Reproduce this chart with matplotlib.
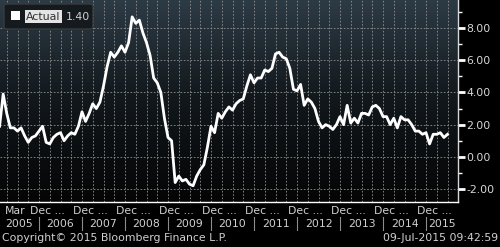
import numpy as np
import matplotlib.pyplot as plt
from matplotlib import transforms
from matplotlib.colors import LinearSegmentedColormap
from matplotlib.patches import FancyBboxPatch, Rectangle

# ---------------- data (monthly, Jan 2005 - Jun 2015) ----------------
y2005 = [1.9, 3.9, 2.7, 1.8, 1.8, 1.6, 1.8, 1.3, 0.9, 1.2, 1.3, 1.6]
y2006 = [1.9, 0.9, 0.8, 1.2, 1.4, 1.5, 1.0, 1.3, 1.5, 1.4, 1.9, 2.8]
y2007 = [2.2, 2.7, 3.3, 3.0, 3.4, 4.4, 5.6, 6.5, 6.2, 6.5, 6.9, 6.5]
y2008 = [7.1, 8.7, 8.3, 8.5, 7.7, 7.1, 6.3, 4.9, 4.6, 4.0, 2.4, 1.2]
y2009 = [1.0, -1.6, -1.2, -1.5, -1.4, -1.7, -1.8, -1.2, -0.8, -0.5, 0.6, 1.9]
y2010 = [1.5, 2.7, 2.4, 2.8, 3.1, 2.9, 3.3, 3.5, 3.6, 4.4, 5.1, 4.6]
y2011 = [4.9, 4.9, 5.4, 5.3, 5.5, 6.4, 6.5, 6.2, 6.1, 5.5, 4.2, 4.1]
y2012 = [4.5, 3.2, 3.6, 3.4, 3.0, 2.2, 1.8, 2.0, 1.9, 1.7, 2.0, 2.5]
y2013 = [2.0, 3.2, 2.1, 2.4, 2.1, 2.7, 2.7, 2.6, 3.1, 3.2, 3.0, 2.5]
y2014 = [2.5, 2.0, 2.4, 1.8, 2.5, 2.3, 2.3, 2.0, 1.6, 1.6, 1.4, 1.5]
y2015 = [0.8, 1.4, 1.4, 1.5, 1.2, 1.4]

actual = y2005 + y2006 + y2007 + y2008 + y2009 + y2010 + y2011 + y2012 + y2013 + y2014 + y2015
years = ['2005', '2006', '2007', '2008', '2009', '2010', '2011', '2012', '2013', '2014', '2015']
yticks = [-2, 0, 2, 4, 6, 8]

# x in years since Jan 2005, points at month end
t = (np.arange(len(actual)) + 1) / 12.0
x0, x1 = 0.093, 10.744

fig = plt.figure(figsize=(5, 2.47), dpi=100, facecolor='black')
ax = fig.add_axes([0, 45 / 247, 458 / 500, 202 / 247])
ax.set_facecolor('black')
ax.set_xlim(x0, x1)
ax.set_ylim(-2.81, 9.75)

# gradient background
cmap = LinearSegmentedColormap.from_list('bg', ['#050505', '#11171b', '#2d3b45'])
grad = np.linspace(0, 1, 256).reshape(-1, 1)
ax.imshow(grad, extent=[x0, x1, -2.81, 9.75], origin='lower', aspect='auto',
          cmap=cmap, zorder=0)

# grid
for q in np.arange(0.25, x1, 0.25):
    ax.axvline(q, color='#909090', lw=0.6, ls=(0, (2, 2)), zorder=1)
for v in yticks:
    ax.axhline(v, color='#909090', lw=0.6, ls=(0, (2, 2)), zorder=1)

ax.plot(t, actual, color='white', lw=2, zorder=3, solid_joinstyle='round')

for s in ['left', 'top']:
    ax.spines[s].set_visible(False)
ax.spines['bottom'].set_color('white')
ax.spines['right'].set_color('#d8d8d8')
ax.spines['bottom'].set_linewidth(1)
ax.spines['right'].set_linewidth(1)

ax.set_xticks([])
ax.yaxis.tick_right()
ax.set_yticks(yticks)
ax.set_yticklabels(['%.2f' % v for v in yticks])
ax.set_yticks(np.arange(-1, 10, 2), minor=True)
ax.tick_params(axis='y', which='major', length=5, width=2, colors='white',
               labelcolor='#d8d8d8', labelsize=7.8, pad=1)
ax.tick_params(axis='y', which='minor', length=3, width=1, colors='white')

# x axis labels
tr = transforms.blended_transform_factory(ax.transData, fig.transFigure)
row1 = (247 - 211) / 247
row2 = (247 - 224) / 247
fs = 7.8
ax.text(0.21, row1, 'Mar', transform=tr, color='#d0d0d0', fontsize=fs,
        ha='left', va='center', clip_on=False)
for k in range(10):
    ax.text(0.79 + k, row1, 'Dec ...', transform=tr, color='#d0d0d0',
            fontsize=fs, ha='left', va='center', clip_on=False)
for i, yr in enumerate(years):
    lo = max(i, x0)
    hi = min(i + 1, x1)
    ax.text((lo + hi) / 2, row2, yr, transform=tr, color='#d0d0d0',
            fontsize=fs, ha='center', va='center', clip_on=False)
for k in range(1, 11):
    ax.plot([k, k], [(247 - 230) / 247, (247 - 217) / 247], transform=tr,
            color='#8c8c8c', lw=0.8, clip_on=False)

fig.text(2 / 500, (247 - 238) / 247, 'Copyright\u00a9 2015 Bloomberg Finance L.P.',
         color='#d0d0d0', fontsize=fs, ha='left', va='center')
fig.text(498 / 500, (247 - 238) / 247, '09-Jul-2015 09:42:59',
         color='#d0d0d0', fontsize=fs, ha='right', va='center')

# legend box
fig.patches.append(FancyBboxPatch((4 / 500, 1 - 29 / 247), 89 / 500, 25 / 247,
                                  boxstyle='round,pad=0,rounding_size=0.008',
                                  transform=fig.transFigure, fc='#151a1e',
                                  ec='#3a3a3a', lw=1, zorder=5))
fig.patches.append(Rectangle((11 / 500, 1 - 20 / 247), 9 / 500, 9 / 247,
                             transform=fig.transFigure, fc='white', ec='none',
                             zorder=6))
fig.text(26 / 500, 1 - 16.5 / 247, 'Actual', color='#303030', fontsize=7.9,
         ha='left', va='center', zorder=7,
         bbox=dict(boxstyle='square,pad=0.12', fc='#e4e4e4', ec='none'))
fig.text(66 / 500, 1 - 16.5 / 247, '1.40', color='#d0d0d0', fontsize=7.9,
         ha='left', va='center', zorder=7)

fig.savefig('out.png', dpi=100, facecolor='black')
